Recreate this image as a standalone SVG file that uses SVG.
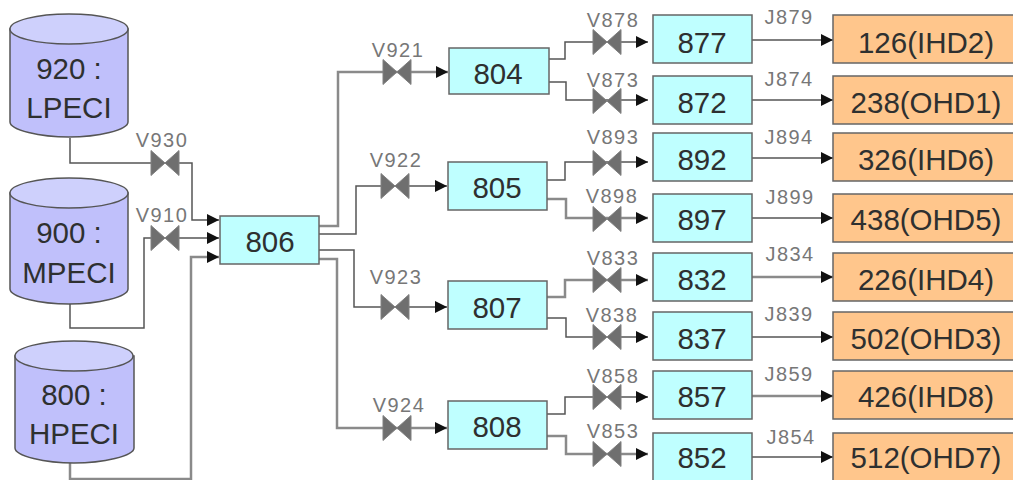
<svg xmlns="http://www.w3.org/2000/svg" width="1013" height="480" viewBox="0 0 1013 480">
<style>
text{font-family:"Liberation Sans",Arial,sans-serif;text-anchor:middle;fill:#2e3030}
.b{fill:#bfffff;stroke:#666;stroke-width:1.5}
.o{fill:#ffc68c;stroke:#666;stroke-width:1.5}
.c{fill:#c0c0fb;stroke:#555;stroke-width:1.5}
.t{fill:#ced0fc;stroke:#555;stroke-width:1.5}
.n{font-size:29.5px}
.l{font-size:20px;letter-spacing:1.4px;fill:#777}
.p{fill:none;stroke:#8a8a8a;stroke-width:2.5}
.k{fill:none;stroke:#555;stroke-width:1.5}
.v{fill:#6f6f6f;stroke:#808080;stroke-width:1}
</style>
<defs>
<marker id="a" markerUnits="userSpaceOnUse" markerWidth="12" markerHeight="12" refX="12" refY="6" orient="auto"><path d="M0 0L12 6L0 12Z" fill="#111"/></marker>
<path id="valve" class="v" d="M-14-12.500L14 12.500V-12.500L-14 12.500Z"/>
</defs>
<g id="connectors">
<path class="k" d="M70 138V163H192V220H219" marker-end="url(#a)"/>
<path class="k" d="M70 304V328H144V238H219" marker-end="url(#a)"/>
<path class="p" d="M70 463V479H191V257H219" marker-end="url(#a)"/>
<path class="p" d="M319 226H338V72H448" marker-end="url(#a)"/>
<path class="k" d="M319 234H356V186H447" marker-end="url(#a)"/>
<path class="k" d="M319 250H354V307H447" marker-end="url(#a)"/>
<path class="p" d="M319 259H337V428H447" marker-end="url(#a)"/>
<path class="k" d="M549 59H565V42H648" marker-end="url(#a)"/>
<path class="k" d="M549 82H566V100H648" marker-end="url(#a)"/>
<path class="k" d="M547 180H565V162H648" marker-end="url(#a)"/>
<path class="p" d="M547 199H566V218H648" marker-end="url(#a)"/>
<path class="p" d="M547 297H565V280H648" marker-end="url(#a)"/>
<path class="k" d="M547 318H566V337H648" marker-end="url(#a)"/>
<path class="k" d="M547 414H565V397H648" marker-end="url(#a)"/>
<path class="p" d="M547 436H566V454H648" marker-end="url(#a)"/>
<path class="k" d="M752 40H833" marker-end="url(#a)"/>
<path class="k" d="M752 100H833" marker-end="url(#a)"/>
<path class="k" d="M752 158H833" marker-end="url(#a)"/>
<path class="k" d="M752 218H833" marker-end="url(#a)"/>
<path class="p" d="M752 277H833" marker-end="url(#a)"/>
<path class="k" d="M752 337H833" marker-end="url(#a)"/>
<path class="p" d="M752 396H833" marker-end="url(#a)"/>
<path class="k" d="M752 457H833" marker-end="url(#a)"/>
</g>
<g id="n920"><path class="c" d="M10 29V122C10 130 40 137 69 137C98 137 128 130 128 122V29Z"/><ellipse class="t" cx="69" cy="29" rx="59" ry="15"/><text class="n" x="69" y="79">920 :</text><text class="n" x="69" y="118">LPECI</text></g>
<g id="n900"><path class="c" d="M10 193V289C10 297 40 304 69 304C98 304 128 297 128 289V193Z"/><ellipse class="t" cx="69" cy="193" rx="59" ry="15"/><text class="n" x="69" y="243">900 :</text><text class="n" x="69" y="283">MPECI</text></g>
<g id="n800"><path class="c" d="M15 356V448C15 456 45 463 74 463C103 463 134 456 134 448V356Z"/><ellipse class="t" cx="74" cy="356" rx="59" ry="15"/><text class="n" x="74" y="405">800 :</text><text class="n" x="74" y="444">HPECI</text></g>
<g id="n806"><rect class="b" x="220" y="216" width="99" height="48"/><text class="n" x="270" y="252">806</text></g>
<g id="n804"><rect class="b" x="449" y="48" width="100" height="46"/><text class="n" x="498" y="84">804</text></g>
<g id="n805"><rect class="b" x="448" y="162" width="99" height="48"/><text class="n" x="497" y="198">805</text></g>
<g id="n807"><rect class="b" x="448" y="281" width="99" height="48"/><text class="n" x="497" y="318">807</text></g>
<g id="n808"><rect class="b" x="448" y="401" width="99" height="48"/><text class="n" x="497" y="437">808</text></g>
<g id="n877"><rect class="b" x="653" y="15" width="99" height="48"/><text class="n" x="702" y="53">877</text></g>
<g id="n872"><rect class="b" x="653" y="76" width="99" height="48"/><text class="n" x="702" y="113">872</text></g>
<g id="n892"><rect class="b" x="653" y="133" width="99" height="48"/><text class="n" x="702" y="170">892</text></g>
<g id="n897"><rect class="b" x="653" y="194" width="99" height="48"/><text class="n" x="702" y="230">897</text></g>
<g id="n832"><rect class="b" x="653" y="253" width="99" height="48"/><text class="n" x="702" y="290">832</text></g>
<g id="n837"><rect class="b" x="653" y="312" width="99" height="48"/><text class="n" x="702" y="349">837</text></g>
<g id="n857"><rect class="b" x="653" y="371" width="99" height="48"/><text class="n" x="702" y="407">857</text></g>
<g id="n852"><rect class="b" x="653" y="433" width="99" height="48"/><text class="n" x="702" y="468">852</text></g>
<g id="n126"><rect class="o" x="833" y="15" width="181" height="48"/><text class="n" x="926" y="53">126(IHD2)</text></g>
<g id="n238"><rect class="o" x="833" y="76" width="181" height="48"/><text class="n" x="926" y="113">238(OHD1)</text></g>
<g id="n326"><rect class="o" x="833" y="133" width="181" height="48"/><text class="n" x="926" y="170">326(IHD6)</text></g>
<g id="n438"><rect class="o" x="833" y="194" width="181" height="48"/><text class="n" x="926" y="230">438(OHD5)</text></g>
<g id="n226"><rect class="o" x="833" y="253" width="181" height="48"/><text class="n" x="926" y="290">226(IHD4)</text></g>
<g id="n502"><rect class="o" x="833" y="312" width="181" height="48"/><text class="n" x="926" y="349">502(OHD3)</text></g>
<g id="n426"><rect class="o" x="833" y="371" width="181" height="48"/><text class="n" x="926" y="407">426(IHD8)</text></g>
<g id="n512"><rect class="o" x="833" y="433" width="181" height="48"/><text class="n" x="926" y="468">512(OHD7)</text></g>
<g id="valves">
<use href="#valve" x="165" y="163"/><text class="l" x="162" y="147">V930</text>
<use href="#valve" x="165" y="238"/><text class="l" x="162" y="222">V910</text>
<use href="#valve" x="397" y="72"/><text class="l" x="398" y="57">V921</text>
<use href="#valve" x="395" y="186"/><text class="l" x="396" y="167">V922</text>
<use href="#valve" x="395" y="307"/><text class="l" x="396" y="284">V923</text>
<use href="#valve" x="397" y="428"/><text class="l" x="399" y="412">V924</text>
<use href="#valve" x="607" y="42"/><text class="l" x="613" y="27">V878</text>
<use href="#valve" x="607" y="101"/><text class="l" x="613" y="87">V873</text>
<use href="#valve" x="607" y="163"/><text class="l" x="613" y="144">V893</text>
<use href="#valve" x="607" y="219"/><text class="l" x="612" y="203">V898</text>
<use href="#valve" x="607" y="280"/><text class="l" x="613" y="265">V833</text>
<use href="#valve" x="607" y="337"/><text class="l" x="612" y="322">V838</text>
<use href="#valve" x="607" y="397"/><text class="l" x="613" y="383">V858</text>
<use href="#valve" x="607" y="454"/><text class="l" x="613" y="438">V853</text>
<text class="l" x="789" y="24">J879</text>
<text class="l" x="789" y="86">J874</text>
<text class="l" x="789" y="144">J894</text>
<text class="l" x="790" y="204">J899</text>
<text class="l" x="790" y="261">J834</text>
<text class="l" x="789" y="321">J839</text>
<text class="l" x="789" y="381">J859</text>
<text class="l" x="791" y="444">J854</text>
</g>
</svg>
